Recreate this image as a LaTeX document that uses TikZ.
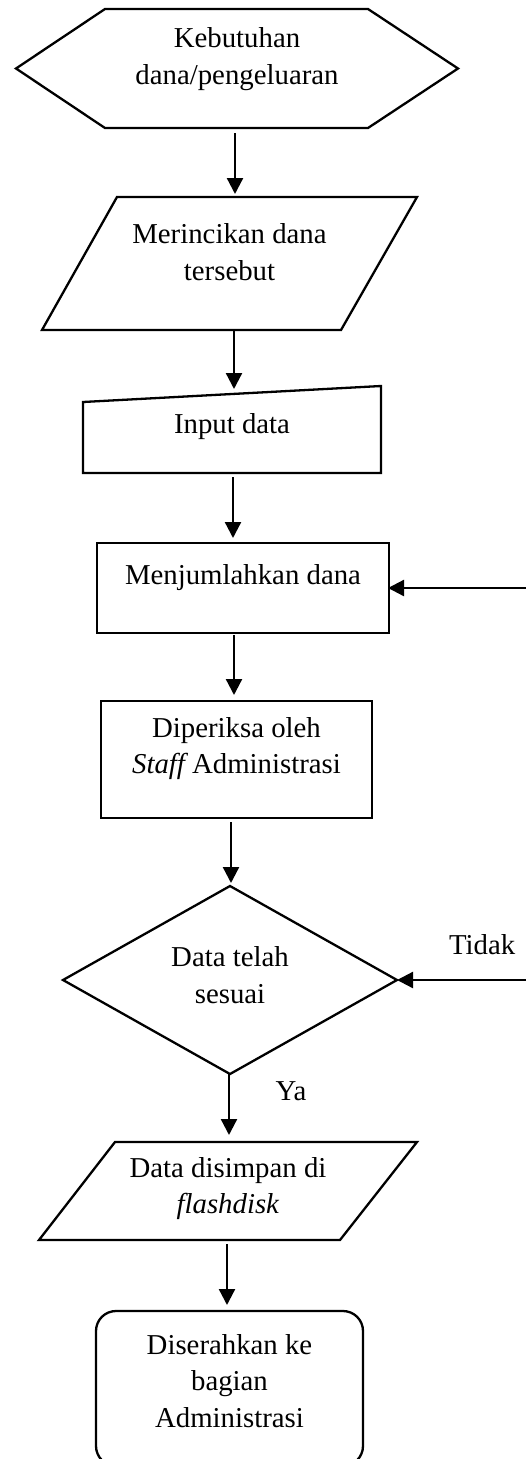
\documentclass[tikz,border=0pt]{standalone}
\usepackage{fontspec}
\setmainfont{Liberation Serif}
\usetikzlibrary{arrows.meta}
\begin{document}
\begin{tikzpicture}[x=1pt,y=-1pt,
  box/.style={draw=none, inner sep=0pt, outer sep=0pt},
  frame/.style={draw, line width=2.3pt, line join=miter},
  txt/.style={align=center, inner sep=0pt, font={\fontsize{28.8}{36.5}\selectfont}},
  arr/.style={line width=2.3pt, -{Triangle[length=16pt,width=16pt]}}]

\useasboundingbox (0,0) rectangle (526,1459);
\clip (0,0) rectangle (526,1459);

% Preparation (hexagon)
\node[box, minimum width=442pt, minimum height=119pt] (hex) at (237,68.5) {};
\draw[frame] (hex.west) -- ([xshift=89]hex.north west) -- ([xshift=-90]hex.north east)
  -- (hex.east) -- ([xshift=-90]hex.south east) -- ([xshift=89]hex.south west) -- cycle;
\node[txt] (hex-t) at ([yshift=9.5]hex.center) {Kebutuhan\\dana/pengeluaran};

% Data (parallelogram)
\node[box, minimum width=375pt, minimum height=133pt] (p1) at (229.5,263.5) {};
\draw[frame] ([xshift=75]p1.north west) -- (p1.north east) -- ([xshift=-76]p1.south east)
  -- (p1.south west) -- cycle;
\node[txt] (p1-t) at ([yshift=11.5]p1.center) {Merincikan dana\\tersebut};

% Manual input
\node[box, minimum width=298pt, minimum height=87pt] (mi) at (232,429.5) {};
\draw[frame] ([yshift=-16]mi.north west) -- (mi.north east) -- (mi.south east)
  -- (mi.south west) -- cycle;
\node[txt] (mi-t) at ([yshift=2.5]mi.center) {Input data};

% Processes
\node[box, frame, minimum width=292pt, minimum height=90pt] (r1) at (243,588) {};
\node[txt] (r1-t) at ([yshift=10]r1.center) {Menjumlahkan dana};

\node[box, frame, minimum width=271pt, minimum height=117pt] (r2) at (236.5,759.5) {};
\node[txt] (r2-t) at ([yshift=11]r2.center) {Diperiksa oleh\\{\itshape Staff} Administrasi};

% Decision
\node[box, minimum width=334pt, minimum height=188pt] (dia) at (230,980) {};
\draw[frame] (dia.north) -- (dia.east) -- (dia.south) -- (dia.west) -- cycle;
\node[txt] (dia-t) at ([yshift=5]dia.center) {Data telah\\sesuai};

% Output (parallelogram)
\node[box, minimum width=378pt, minimum height=98pt] (p2) at (228,1191) {};
\draw[frame] ([xshift=76]p2.north west) -- (p2.north east) -- ([xshift=-77]p2.south east)
  -- (p2.south west) -- cycle;
\node[txt] (p2-t) at ([yshift=2.5]p2.center) {Data disimpan di\\\textit{flashdisk}};

% Terminator
\node[box, frame, rounded corners=20pt, minimum width=267pt, minimum height=155pt] (rr) at (229.5,1388.5) {};
\node[txt] (rr-t) at ([yshift=7.5]rr.center) {Diserahkan ke\\bagian\\Administrasi};

% Flow
\draw[arr, shorten <=5pt, shorten >=3pt] ([xshift=-2]hex.south) -- ([xshift=-2]hex.south |- p1.north);
\draw[arr, shorten <=0pt, shorten >=-3pt] ([xshift=4.5]p1.south) -- ([xshift=4.5]p1.south |- mi.north);
\draw[arr, shorten <=4pt, shorten >=5pt] ([xshift=1]mi.south) -- ([xshift=1]mi.south |- r1.north);
\draw[arr, shorten <=2pt, shorten >=6pt] ([xshift=-9]r1.south) -- ([xshift=-9]r1.south |- r2.north);
\draw[arr, shorten <=4pt, shorten >=3pt] ([xshift=-5.5]r2.south) -- ([xshift=-5.5]r2.south |- dia.north);
\draw[arr, shorten >=7pt] ([xshift=-1]dia.south) -- node[txt, pos=0.25, xshift=62pt] (ya) {Ya} ([xshift=-1]dia.south |- p2.north);
\draw[arr, shorten <=4pt, shorten >=6pt] ([xshift=-1]p2.south) -- ([xshift=-1]p2.south |- rr.north);

% Returns from the right
\coordinate (back1) at (526,588);
\coordinate (back2) at (526,980);
\draw[arr, shorten >=-1pt] (back1) -- (r1.east);
\draw[arr] (back2) -- node[txt, pos=0.34, yshift=35pt] (tidak) {Tidak} (dia.east);
\end{tikzpicture}
\end{document}
